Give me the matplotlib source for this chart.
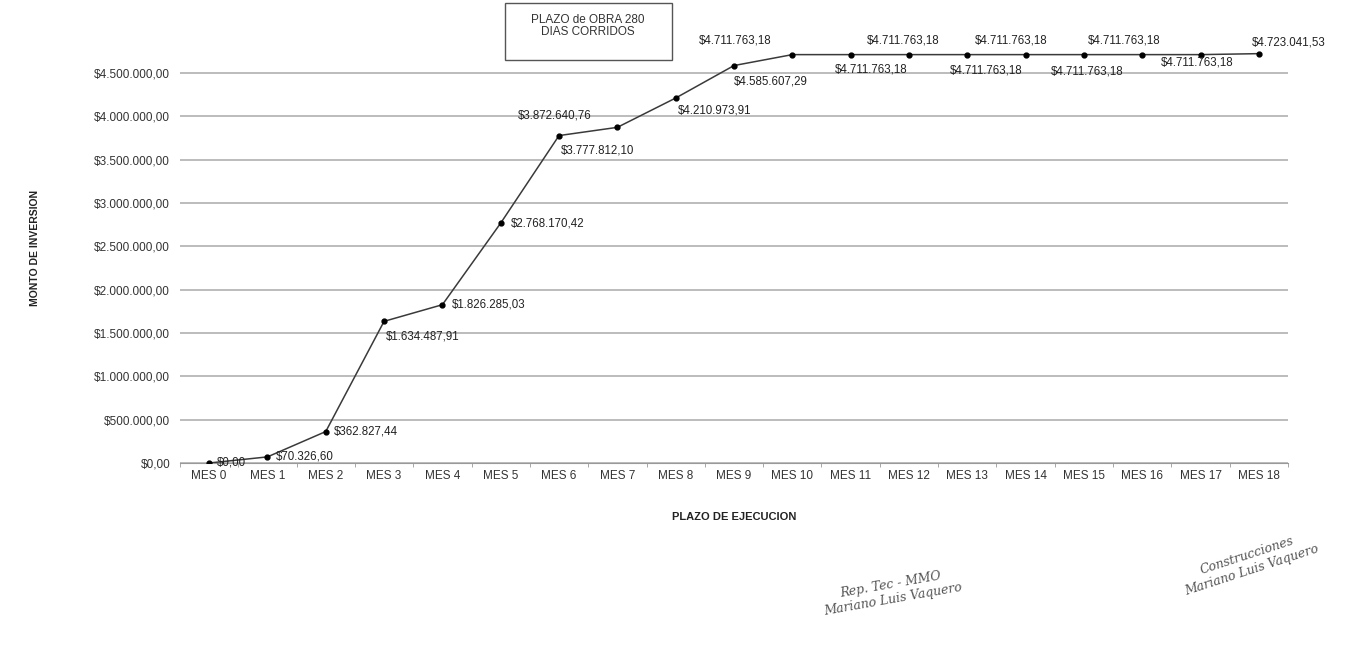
import numpy as np
import matplotlib.pyplot as plt
from matplotlib.patches import Rectangle

# datos del grafico
meses = ['MES %d' % i for i in range(19)]
montos = [0.00, 70326.60, 362827.44, 1634487.91, 1826285.03, 2768170.42,
          3777812.10, 3872640.76, 4210973.91, 4585607.29, 4711763.18,
          4711763.18, 4711763.18, 4711763.18, 4711763.18, 4711763.18,
          4711763.18, 4711763.18, 4723041.53]
y_ticks = [0, 500000, 1000000, 1500000, 2000000, 2500000, 3000000, 3500000, 4000000, 4500000]

### posicion de las etiquetas (desplazamiento en pixeles, alineacion)
lbl_off = [(8, 0, 'left'), (8, 0, 'left'), (8, 0, 'left'), (2, -15, 'left'),
           (9, 0, 'left'), (10, 0, 'left'), (2, -15, 'left'), (-63, 12, 'center'),
           (2, -12, 'left'), (0, -16, 'left'), (-57, 14, 'center'), (21, -15, 'center'),
           (-6, 14, 'center'), (19, -16, 'center'), (-14, 14, 'center'), (3, -17, 'center'),
           (-18, 14, 'center'), (-3, -8, 'center'), (30, 11, 'center')]


def fmt(v):
    s = '{:,.2f}'.format(v)
    s = s.replace(',', 'X').replace('.', ',').replace('X', '.')
    return '$' + s


plt.rcParams['font.family'] = ['Liberation Sans', 'DejaVu Sans']

fig = plt.figure(figsize=(13.51, 6.47), dpi=100)
ax = fig.add_axes([0.1332, 0.2844, 0.8202, 0.6363])

x = np.arange(len(meses))
ax.plot(x, montos, color='#3a3a3a', lw=1.1, marker='o', ms=3.5,
        mfc='black', mec='black', zorder=3)

for i in range(len(montos)):
    dx, dy, ha = lbl_off[i]
    ax.annotate(fmt(montos[i]), (x[i], montos[i]), xytext=(dx * 0.72, dy * 0.72),
                textcoords='offset points', ha=ha, va='center', fontsize=8.3,
                color='#222222')

ax.set_xlim(-0.5, 18.5)
ax.set_ylim(0, 4750000)
ax.set_yticks(y_ticks)
ax.set_yticklabels([fmt(v) for v in y_ticks], fontsize=8.5, color='#333333')
ax.set_xticks(x)
ax.set_xticklabels(meses, fontsize=8.5, color='#333333')
ax.set_xticks(np.arange(-0.5, 19, 1), minor=True)
ax.tick_params(axis='x', which='major', length=0, pad=5)
ax.tick_params(axis='x', which='minor', length=3, color='#999999')
ax.tick_params(axis='y', length=0, pad=7)
ax.grid(axis='y', color='#aaaaaa', lw=1.1)
ax.set_axisbelow(True)
for s in ['top', 'right', 'left']:
    ax.spines[s].set_visible(False)
ax.spines['bottom'].set_color('#999999')

ax.set_xlabel('PLAZO DE EJECUCION', fontsize=8, fontweight='bold', labelpad=22, color='#222222')
fig.text(0.026, 0.617, 'MONTO DE INVERSION', rotation=90, fontsize=7.5,
         fontweight='bold', ha='center', va='center', color='#222222')

### recuadro de plazo
fig.patches.append(Rectangle((0.3738, 0.9073), 0.1236, 0.0881, transform=fig.transFigure,
                             fc='white', ec='#555555', lw=1))
fig.text(0.4352, 0.979, 'PLAZO de OBRA 280\nDIAS CORRIDOS', fontsize=8.5, ha='center',
         va='top', linespacing=1.0, color='#333333')

### firmas
fig.text(0.66, 0.085, 'Rep. Tec - MMO\nMariano Luis Vaquero', rotation=10, fontsize=9,
         family='DejaVu Serif', style='italic', color='#555555', ha='center', va='center')
fig.text(0.925, 0.13, 'Construcciones\nMariano Luis Vaquero', rotation=18, fontsize=9,
         family='DejaVu Serif', style='italic', color='#555555', ha='center', va='center')

fig.savefig('out.png', dpi=100)
